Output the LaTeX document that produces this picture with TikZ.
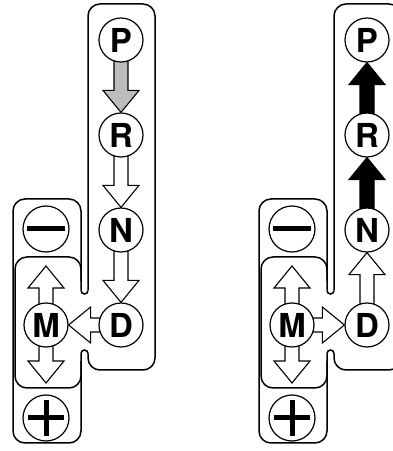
\documentclass[tikz,border=0pt]{standalone}
\usepackage{fontspec}
\setmainfont{TeX Gyre Heros}
\usetikzlibrary{calc,backgrounds}
\definecolor{gateGray}{HTML}{BDBDBD}

% fat block arrow: options, from, tip
\newcommand{\blockarrow}[3]{%
  \coordinate (ba) at ($(#3)!22pt!(#2)$);
  \draw[#1] ($(#2)!7pt!90:(#3)$) -- ($(ba)!7pt!-90:(#2)$) -- ($(ba)!18pt!-90:(#2)$)
    -- (#3) -- ($(ba)!18pt!90:(#2)$) -- ($(ba)!7pt!90:(#2)$)
    -- ($(#2)!7pt!-90:(#3)$) -- cycle;}

% gate slot and the gear positions
\newcommand{\shiftgate}{%
  \draw[gate] (88,160.5) -- (88,447) -- (155,447) -- (155,81) -- (88,81) -- (88,97.5);
  \draw[gate] (81,160.5) -- (81,252) -- (13,252) -- (13,8) -- (81,8) -- (81,97.5);
  \draw[gate] (81,170) -- (81,194) -- (15,194) -- (15,63) -- (81,63) -- (81,90);
  \draw[gatecap] (81,160.5) arc[start angle=180,end angle=360,radius=3.5pt];
  \draw[gatecap] (81,97.5) arc[start angle=180,end angle=0,radius=3.5pt];
  \node[gear] (P) at (121,411) {P};
  \node[gear] (R) at (121,316) {R};
  \node[gear] (N) at (121,221) {N};
  \node[gear] (D) at (121,126) {D};
  \node[gear] (M) at (46,126)  {M};
  \node[sign] (minus) at (46,222) {};
  \node[sign] (plus)  at (46,33)  {};
  \draw[bar] ($(minus)+(-19,0)$) -- ($(minus)+(19,0)$);
  \draw[bar] ($(plus)+(-18,0)$) -- ($(plus)+(18,0)$);
  \draw[bar] ($(plus)+(0,-18)$) -- ($(plus)+(0,18)$);
  \coordinate (Mu) at (46,185);
  \coordinate (Md) at (46,68);}

\begin{document}
\begin{tikzpicture}[
  x=1pt,y=1pt,
  gate/.style={draw,line width=1.5pt,rounded corners=12pt},
  gatecap/.style={draw,line width=1.5pt},
  gear/.style={circle,draw,line width=1.2pt,fill=white,minimum size=44pt,inner sep=0pt,
               font=\fontsize{33}{33}\selectfont\bfseries},
  sign/.style={circle,draw,line width=1.2pt,fill=white,minimum size=46pt,inner sep=0pt},
  bar/.style={line width=5pt},
  blk/.style={draw,line width=1.1pt,line join=miter}
]
\useasboundingbox (0,0) rectangle (393,451);

% left: P -> R -> N -> D -> M
\begin{scope}[name prefix=l]
  \shiftgate
  \begin{scope}[on background layer]
    \blockarrow{blk,fill=gateGray}{P}{R.north}
    \blockarrow{blk,fill=white}{R}{N.north}
    \blockarrow{blk,fill=white}{N}{D.north}
    \blockarrow{blk,fill=white}{D}{M.east}
    \blockarrow{blk,fill=white}{M}{Mu}
    \blockarrow{blk,fill=white}{M}{Md}
  \end{scope}
\end{scope}

% right: M -> D -> N -> R -> P
\begin{scope}[xshift=246pt,name prefix=r]
  \shiftgate
  \begin{scope}[on background layer]
    \blockarrow{blk,fill=black}{R}{P.south}
    \blockarrow{blk,fill=black}{N}{R.south}
    \blockarrow{blk,fill=white}{D}{N.south}
    \blockarrow{blk,fill=white}{M}{D.west}
    \blockarrow{blk,fill=white}{M}{Mu}
    \blockarrow{blk,fill=white}{M}{Md}
  \end{scope}
\end{scope}
\end{tikzpicture}
\end{document}
